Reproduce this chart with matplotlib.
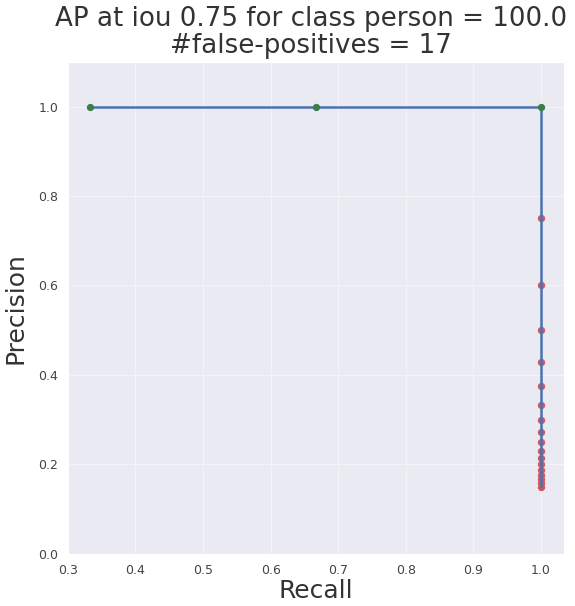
import matplotlib
matplotlib.use("Agg")
import matplotlib.pyplot as plt
import seaborn as sns

sns.set_style("darkgrid")

# true positives at the start, then 17 false positives
recall = [1/3, 2/3, 1.0] + [1.0] * 17
precision = [1.0, 1.0, 1.0] + [3 / (3 + k) for k in range(1, 18)]
is_tp = [True] * 3 + [False] * 17

fig = plt.figure(figsize=(5.75, 6.06), dpi=100)
ax = fig.add_axes([0.118, 0.086, 0.863, 0.812])

ax.plot(recall, precision, color="#4c72b0", lw=1.8, zorder=2)
tp_r = [r for r, t in zip(recall, is_tp) if t]
tp_p = [p for p, t in zip(precision, is_tp) if t]
fp_r = [r for r, t in zip(recall, is_tp) if not t]
fp_p = [p for p, t in zip(precision, is_tp) if not t]
ax.scatter(tp_r, tp_p, color="#3d7d4a", s=18, zorder=3)
ax.scatter(fp_r, fp_p, color="#d9545a", s=18, zorder=1)

ax.set_xlim(0.3, 1.034)
ax.set_ylim(0.0, 1.1)
ax.set_xticks([0.3, 0.4, 0.5, 0.6, 0.7, 0.8, 0.9, 1.0])
ax.set_yticks([0.0, 0.2, 0.4, 0.6, 0.8, 1.0])
ax.grid(True, color="#f4f4f8", lw=0.8)
ax.tick_params(labelsize=9, colors="#444444")
ax.set_xlabel("Recall", fontsize=18, color="#333333", labelpad=2)
ax.set_ylabel("Precision", fontsize=18, color="#333333", labelpad=8)
ax.set_title("AP at iou 0.75 for class person = 100.0\n#false-positives = 17",
             fontsize=18.8, color="#333333", pad=6, linespacing=1.05, x=0.49)

fig.savefig("out.png", dpi=100)
